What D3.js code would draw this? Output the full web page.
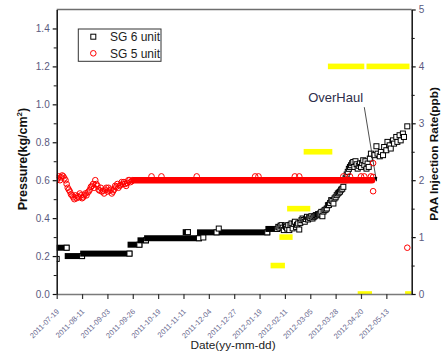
<!DOCTYPE html>
<html>
<head>
<meta charset="utf-8">
<script src="https://cdn.jsdelivr.net/npm/d3@7"></script>
<style>
  body { margin: 0; background: #fff; }
  svg { display: block; font-family: "Liberation Sans", Arial, sans-serif; }
</style>
</head>
<body>
<svg id="chart" width="443" height="358"></svg>
<script>
const dateTicks = ["2011-07-19", "2011-08-11", "2011-09-03", "2011-09-26", "2011-10-19",
  "2011-11-11", "2011-12-04", "2011-12-27", "2012-01-19", "2012-02-11", "2012-03-05",
  "2012-03-28", "2012-04-20", "2012-05-13"];
const pressureTicks = [0, 0.2, 0.4, 0.6, 0.8, 1.0, 1.2, 1.4];
const pressureMinor = [0.1, 0.3, 0.5, 0.7, 0.9, 1.1, 1.3];
const rateTicks = [0, 1, 2, 3, 4, 5];
const rateMinor = [0.5, 1.5, 2.5, 3.5, 4.5];

// SG 6 unit: flat stretches where daily markers pile up into one band [from, to, value]
const sg6Runs = [
  ["2011-07-19", "2011-07-28", 0.244],
  ["2011-07-29", "2011-08-11", 0.200],
  ["2011-08-12", "2011-09-23", 0.213],
  ["2011-09-24", "2011-10-02", 0.260],
  ["2011-10-03", "2011-10-08", 0.283],
  ["2011-10-09", "2011-11-25", 0.294],
  ["2011-11-13", "2011-11-15", 0.326],
  ["2011-11-26", "2012-01-26", 0.325],
  ["2012-01-27", "2012-02-04", 0.343]
];
// SG 6 unit: single readings
const sg6Points = [
  ["2011-07-19", 0.185], ["2011-11-29", 0.298], ["2011-12-11", 0.325], ["2011-12-13", 0.345],
  ["2012-02-05", 0.354], ["2012-02-06", 0.350], ["2012-02-07", 0.360], ["2012-02-08", 0.363],
  ["2012-02-09", 0.350], ["2012-02-10", 0.337], ["2012-02-11", 0.360], ["2012-02-12", 0.354],
  ["2012-02-13", 0.345], ["2012-02-14", 0.363], ["2012-02-15", 0.337], ["2012-02-16", 0.365],
  ["2012-02-17", 0.372], ["2012-02-18", 0.346], ["2012-02-19", 0.370], ["2012-02-20", 0.381],
  ["2012-02-21", 0.354], ["2012-02-22", 0.365], ["2012-02-23", 0.372], ["2012-02-24", 0.340],
  ["2012-02-25", 0.375], ["2012-02-26", 0.389], ["2012-02-27", 0.398], ["2012-02-28", 0.390],
  ["2012-02-29", 0.381], ["2012-03-01", 0.395], ["2012-03-02", 0.407], ["2012-03-03", 0.393],
  ["2012-03-04", 0.404], ["2012-03-05", 0.400], ["2012-03-06", 0.410], ["2012-03-07", 0.398],
  ["2012-03-08", 0.405], ["2012-03-09", 0.410], ["2012-03-10", 0.416], ["2012-03-11", 0.415],
  ["2012-03-12", 0.421], ["2012-03-13", 0.420], ["2012-03-14", 0.425], ["2012-03-15", 0.433],
  ["2012-03-16", 0.410], ["2012-03-17", 0.435], ["2012-03-18", 0.442], ["2012-03-19", 0.445],
  ["2012-03-20", 0.451], ["2012-03-21", 0.468], ["2012-03-22", 0.470], ["2012-03-23", 0.480],
  ["2012-03-24", 0.495], ["2012-03-25", 0.490], ["2012-03-26", 0.477], ["2012-03-27", 0.504],
  ["2012-03-28", 0.510], ["2012-03-29", 0.521], ["2012-03-30", 0.530], ["2012-03-31", 0.535],
  ["2012-04-01", 0.540], ["2012-04-02", 0.550], ["2012-04-03", 0.555], ["2012-04-04", 0.565],
  ["2012-04-05", 0.600], ["2012-04-06", 0.610], ["2012-04-07", 0.630], ["2012-04-08", 0.644],
  ["2012-04-09", 0.660], ["2012-04-10", 0.670], ["2012-04-11", 0.679], ["2012-04-12", 0.690],
  ["2012-04-13", 0.696], ["2012-04-14", 0.670], ["2012-04-15", 0.700], ["2012-04-16", 0.684],
  ["2012-04-17", 0.661], ["2012-04-18", 0.676], ["2012-04-19", 0.688], ["2012-04-20", 0.670],
  ["2012-04-21", 0.690], ["2012-04-22", 0.705], ["2012-04-23", 0.679], ["2012-04-24", 0.700],
  ["2012-04-25", 0.661], ["2012-04-26", 0.688], ["2012-04-27", 0.670], ["2012-04-28", 0.714],
  ["2012-04-29", 0.740], ["2012-05-02", 0.732], ["2012-05-04", 0.779], ["2012-05-05", 0.740],
  ["2012-05-07", 0.726], ["2012-05-08", 0.749], ["2012-05-10", 0.732], ["2012-05-11", 0.775],
  ["2012-05-13", 0.758], ["2012-05-14", 0.802], ["2012-05-16", 0.784], ["2012-05-17", 0.767],
  ["2012-05-19", 0.810], ["2012-05-20", 0.793], ["2012-05-22", 0.828], ["2012-05-23", 0.802],
  ["2012-05-25", 0.837], ["2012-05-26", 0.810], ["2012-05-28", 0.846], ["2012-05-29", 0.828],
  ["2012-06-01", 0.884]
];

// SG 5 unit
const sg5Runs = [["2011-09-27", "2012-04-30", 0.600]];
const sg5Points = [
  ["2011-07-19", 0.600], ["2011-07-20", 0.610], ["2011-07-21", 0.620], ["2011-07-22", 0.600],
  ["2011-07-23", 0.615], ["2011-07-24", 0.625], ["2011-07-25", 0.620], ["2011-07-26", 0.610],
  ["2011-07-27", 0.600], ["2011-07-28", 0.580], ["2011-07-29", 0.560], ["2011-07-30", 0.550],
  ["2011-07-31", 0.540], ["2011-08-01", 0.525], ["2011-08-02", 0.520], ["2011-08-03", 0.510],
  ["2011-08-04", 0.500], ["2011-08-05", 0.520], ["2011-08-06", 0.505], ["2011-08-07", 0.515],
  ["2011-08-08", 0.510], ["2011-08-09", 0.530], ["2011-08-10", 0.520], ["2011-08-11", 0.505],
  ["2011-08-12", 0.510], ["2011-08-13", 0.520], ["2011-08-14", 0.530], ["2011-08-15", 0.520],
  ["2011-08-16", 0.535], ["2011-08-17", 0.540], ["2011-08-18", 0.550], ["2011-08-19", 0.565],
  ["2011-08-20", 0.570], ["2011-08-21", 0.580], ["2011-08-22", 0.560], ["2011-08-23", 0.600],
  ["2011-08-24", 0.580], ["2011-08-25", 0.570], ["2011-08-26", 0.550], ["2011-08-27", 0.545],
  ["2011-08-28", 0.560], ["2011-08-29", 0.540], ["2011-08-30", 0.545], ["2011-08-31", 0.530],
  ["2011-09-01", 0.550], ["2011-09-02", 0.560], ["2011-09-03", 0.540], ["2011-09-04", 0.560],
  ["2011-09-05", 0.545], ["2011-09-06", 0.550], ["2011-09-07", 0.530], ["2011-09-08", 0.540],
  ["2011-09-09", 0.550], ["2011-09-10", 0.570], ["2011-09-11", 0.565], ["2011-09-12", 0.580],
  ["2011-09-13", 0.560], ["2011-09-14", 0.570], ["2011-09-15", 0.575], ["2011-09-16", 0.590],
  ["2011-09-17", 0.580], ["2011-09-18", 0.590], ["2011-09-19", 0.580], ["2011-09-20", 0.570],
  ["2011-09-21", 0.585], ["2011-09-22", 0.600], ["2011-09-23", 0.600], ["2011-09-24", 0.590],
  ["2011-09-25", 0.595], ["2011-09-26", 0.600],
  ["2011-10-13", 0.620], ["2011-10-22", 0.620], ["2011-11-23", 0.620], ["2012-01-15", 0.620],
  ["2012-01-18", 0.620], ["2012-02-20", 0.620], ["2012-02-24", 0.620], ["2012-04-04", 0.620],
  ["2012-04-10", 0.620], ["2012-04-20", 0.620], ["2012-04-23", 0.620], ["2012-04-29", 0.620],
  ["2012-05-01", 0.690], ["2012-05-01", 0.617], ["2012-05-01", 0.542], ["2012-06-01", 0.244]
];

// PAA injection rate (ppb) held over periods [from, to, rate]
const paaPeriods = [
  ["2012-01-29", "2012-02-11", 0.5],
  ["2012-02-06", "2012-02-18", 1.0],
  ["2012-02-13", "2012-03-05", 1.5],
  ["2012-02-28", "2012-03-25", 2.5],
  ["2012-03-21", "2012-04-23", 4.0],
  ["2012-04-25", "2012-06-03", 4.0],
  ["2012-04-17", "2012-04-30", 0.0],
  ["2012-05-30", "2012-06-05", 0.0]
];

const overhaul = { label: "OverHaul", text: ["2012-03-28", 1.013], from: ["2012-04-23", 0.985], to: ["2012-05-04", 0.595] };

const parse = d3.timeParse("%Y-%m-%d");
const svg = d3.select("#chart");
const L = 56.7, R = 411.7, T = 9.5, B = 294;

const x = d3.scaleTime().domain([parse("2011-07-19"), parse("2012-06-05")]).range([L, R]);
const yP = d3.scaleLinear().domain([0, 1.5]).range([B, T]);
const yR = d3.scaleLinear().domain([0, 5]).range([B, T]);

svg.append("defs").append("clipPath").attr("id", "plot")
  .append("rect").attr("x", L).attr("y", T).attr("width", R - L).attr("height", B - T);
svg.select("defs").append("marker")
  .attr("id", "arrow").attr("viewBox", "0 0 10 10").attr("refX", 9).attr("refY", 5)
  .attr("markerWidth", 6).attr("markerHeight", 6).attr("orient", "auto")
  .append("path").attr("d", "M0,1.5L10,5L0,8.5Z").attr("fill", "#000");

const plot = svg.append("g").attr("clip-path", "url(#plot)");

const sq = 5;
// SG 6 - bands of stacked squares, last one left open
const g6 = plot.append("g");
sg6Runs.forEach(([a, b, v]) => {
  g6.append("rect")
    .attr("x", x(parse(a)) - sq / 2 - 0.5).attr("y", yP(v) - sq / 2 - 0.5)
    .attr("width", x(parse(b)) - x(parse(a)) + sq + 1).attr("height", sq + 1)
    .attr("fill", "#000");
  g6.append("rect")
    .attr("x", x(parse(b)) - sq / 2).attr("y", yP(v) - sq / 2)
    .attr("width", sq).attr("height", sq)
    .attr("fill", "#fff").attr("stroke", "#000").attr("stroke-width", 1);
});
g6.selectAll("rect.pt").data(sg6Points).enter().append("rect").attr("class", "pt")
  .attr("x", d => x(parse(d[0])) - sq / 2).attr("y", d => yP(d[1]) - sq / 2)
  .attr("width", sq).attr("height", sq)
  .attr("fill", "#fff").attr("stroke", "#000").attr("stroke-width", 1);

// SG 5
const cr = 2.8;
const g5 = plot.append("g");
sg5Runs.forEach(([a, b, v]) => {
  g5.append("rect")
    .attr("x", x(parse(a)) - cr - 0.5).attr("y", yP(v) - cr - 0.5)
    .attr("width", x(parse(b)) - x(parse(a)) + 2 * cr + 1).attr("height", 2 * cr + 1)
    .attr("rx", cr + 0.5).attr("fill", "#ff0000");
});
g5.selectAll("circle").data(sg5Points).enter().append("circle")
  .attr("cx", d => x(parse(d[0]))).attr("cy", d => yP(d[1])).attr("r", cr)
  .attr("fill", "none").attr("stroke", "#ff0000").attr("stroke-width", 1);

// PAA injection
plot.append("g").selectAll("rect").data(paaPeriods).enter().append("rect")
  .attr("x", d => x(parse(d[0]))).attr("width", d => x(parse(d[1])) - x(parse(d[0])))
  .attr("y", d => yR(d[2]) - 2.8).attr("height", 5.6)
  .attr("fill", "#ffff00");

// frame and axes
svg.append("line").attr("x1", L).attr("x2", R).attr("y1", T).attr("y2", T)
  .attr("stroke", "#6e6e6e").attr("stroke-width", 1.5);

function style(g, lineColor, textColor, size) {
  g.select(".domain").attr("stroke", lineColor).attr("stroke-width", 1.5);
  g.selectAll(".tick line").attr("stroke", lineColor).attr("stroke-width", 1.2);
  g.selectAll(".tick text").attr("fill", textColor).attr("font-size", size)
    .attr("font-family", "'Liberation Sans', Arial, sans-serif");
}

const xAxis = svg.append("g").attr("transform", `translate(0,${B})`)
  .call(d3.axisBottom(x).tickValues(dateTicks.map(parse)).tickSize(5).tickSizeOuter(0)
    .tickFormat(d3.timeFormat("%Y-%m-%d")));
style(xAxis, "#7a7a7a", "#6a6a90", 7.5);
xAxis.selectAll(".tick line").attr("stroke", "#333");
xAxis.selectAll(".tick text").attr("y", 0).attr("dy", 0).attr("x", 0)
  .attr("text-anchor", "end").attr("transform", "translate(2.5,18) rotate(-45)");

const lAxis = svg.append("g").attr("transform", `translate(${L},0)`)
  .call(d3.axisLeft(yP).tickValues(pressureTicks).tickSize(4).tickSizeOuter(0).tickPadding(3)
    .tickFormat(d3.format(".1f")));
style(lAxis, "#111", "#5a5a80", 10);
svg.append("g").attr("transform", `translate(${L},0)`)
  .call(d3.axisLeft(yP).tickValues(pressureMinor).tickSize(3).tickFormat(""))
  .call(g => { g.select(".domain").remove(); g.selectAll("line").attr("stroke", "#111"); });

const rAxis = svg.append("g").attr("transform", `translate(${R},0)`)
  .call(d3.axisRight(yR).tickValues(rateTicks).tickSize(4).tickSizeOuter(0).tickPadding(3)
    .tickFormat(d3.format("d")));
style(rAxis, "#111", "#5a5a80", 10);
svg.append("g").attr("transform", `translate(${R},0)`)
  .call(d3.axisRight(yR).tickValues(rateMinor).tickSize(3).tickFormat(""))
  .call(g => { g.select(".domain").remove(); g.selectAll("line").attr("stroke", "#111"); });

// titles
const lt = svg.append("text").attr("transform", "translate(26.5,159) rotate(-90)")
  .attr("text-anchor", "middle").attr("font-weight", "bold").attr("font-size", 12.5).attr("fill", "#111");
lt.append("tspan").text("Pressure(kg/cm");
lt.append("tspan").attr("font-size", 8).attr("dy", -5).text("2");
lt.append("tspan").attr("dy", 5).text(")");

svg.append("text").attr("transform", "translate(437.5,154) rotate(-90)")
  .attr("text-anchor", "middle").attr("font-weight", "bold").attr("font-size", 11.8).attr("fill", "#111")
  .text("PAA Injection Rate(ppb)");

svg.append("text").attr("x", 233).attr("y", 349).attr("text-anchor", "middle")
  .attr("font-size", 11.8).attr("fill", "#222").text("Date(yy-mm-dd)");

// overhaul annotation
svg.append("text").attr("x", x(parse(overhaul.text[0]))).attr("y", yP(overhaul.text[1]))
  .attr("text-anchor", "middle").attr("font-size", 13).attr("fill", "#2e2e4a").text(overhaul.label);
svg.append("line")
  .attr("x1", x(parse(overhaul.from[0]))).attr("y1", yP(overhaul.from[1]))
  .attr("x2", x(parse(overhaul.to[0]))).attr("y2", yP(overhaul.to[1]))
  .attr("stroke", "#222").attr("stroke-width", 0.8).attr("marker-end", "url(#arrow)");

// legend
const lg = svg.append("g").attr("transform", "translate(78.3,29)");
lg.append("rect").attr("width", 82.7).attr("height", 32.3)
  .attr("fill", "#fff").attr("stroke", "#333").attr("stroke-width", 1);
lg.append("rect").attr("x", 15 - sq / 2).attr("y", 7.7 - sq / 2).attr("width", sq).attr("height", sq)
  .attr("fill", "#fff").attr("stroke", "#000");
lg.append("circle").attr("cx", 15).attr("cy", 24.3).attr("r", cr)
  .attr("fill", "none").attr("stroke", "#ff0000");
lg.append("text").attr("x", 31.7).attr("y", 7.7).attr("dy", "0.36em")
  .attr("font-size", 12).attr("fill", "#222").text("SG 6 unit");
lg.append("text").attr("x", 31.7).attr("y", 24.3).attr("dy", "0.36em")
  .attr("font-size", 12).attr("fill", "#222").text("SG 5 unit");
</script>
</body>
</html>
